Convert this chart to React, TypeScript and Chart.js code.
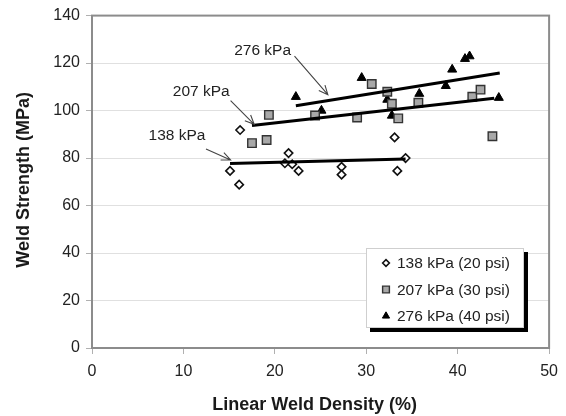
import React, { useEffect, useRef } from "react";
import { Chart, registerables } from "chart.js";

Chart.register(...registerables);

// Measured weld strength (MPa) against linear weld density (%), per clamp pressure
const density138 = [15.1, 16.1, 16.2, 21.1, 21.5, 21.9, 22.6, 27.3, 27.3, 33.1, 33.4, 34.3];
const strength138 = [74.6, 68.8, 91.8, 77.8, 82.1, 77.4, 74.6, 76.3, 73.0, 88.7, 74.6, 80.0];

const density207 = [17.5, 19.1, 19.35, 24.4, 29.0, 30.6, 32.3, 32.8, 33.5, 35.7, 41.6, 42.5, 43.8];
const strength207 = [86.3, 87.6, 98.2, 97.9, 97.1, 111.2, 107.9, 102.9, 96.7, 103.3, 105.8, 108.8, 89.2];

const density276 = [22.3, 25.1, 29.5, 32.3, 32.8, 35.8, 38.7, 39.4, 40.8, 41.3, 44.5];
const strength276 = [105.8, 100.0, 113.8, 104.6, 97.9, 107.1, 110.4, 117.3, 121.8, 122.9, 105.4];

// Linear fits, given by their end points
const fit138X = [15.1, 34.3];
const fit138Y = [77.7, 79.6];
const fit207X = [17.5, 44.0];
const fit207Y = [93.7, 105.2];
const fit276X = [22.3, 44.6];
const fit276Y = [102.0, 115.8];

const seriesLabels = ["138 kPa (20 psi)", "207 kPa (30 psi)", "276 kPa (40 psi)"];
const calloutLabels = ["138 kPa", "207 kPa", "276 kPa"];
// Callout text anchors and arrow start/end, in data units
const calloutTextX = [9.3, 11.95, 18.66];
const calloutTextY = [89.2, 107.9, 125.4];
const arrowFromX = [12.47, 15.16, 22.15];
const arrowFromY = [83.8, 104.2, 122.9];
const arrowToX = [15.16, 17.74, 25.8];
const arrowToY = [79.2, 94.2, 106.7];

const xTitle = "Linear Weld Density (%)";
const yTitle = "Weld Strength (MPa)";

const FONT = "'Liberation Sans', Arial, sans-serif";

const pairs = (xs: number[], ys: number[]) => xs.map((x, i) => ({ x, y: ys[i] }));

const markerStyles = [
  { pointStyle: "rectRot", radius: 4.2, bg: "#ffffff", border: "#111111", bw: 1.6 },
  { pointStyle: "rect", radius: 6, bg: "#a8a8a8", border: "#333333", bw: 1.4 },
  { pointStyle: "triangle", radius: 5.2, bg: "#000000", border: "#000000", bw: 1 },
];

// small legend marker, same shapes as the plotted points
function legendMarker(ctx: CanvasRenderingContext2D, kind: string, x: number, y: number, r: number) {
  ctx.beginPath();
  if (kind === "rectRot") {
    ctx.moveTo(x - r, y);
    ctx.lineTo(x, y - r);
    ctx.lineTo(x + r, y);
    ctx.lineTo(x, y + r);
  } else if (kind === "rect") {
    const h = r * Math.SQRT1_2;
    ctx.rect(x - h, y - h, 2 * h, 2 * h);
  } else {
    ctx.moveTo(x, y - r);
    ctx.lineTo(x + r * 0.866, y + r * 0.5);
    ctx.lineTo(x - r * 0.866, y + r * 0.5);
  }
  ctx.closePath();
  ctx.fill();
  ctx.stroke();
}

const decorations = {
  id: "decorations",
  afterDatasetsDraw(chart: any) {
    const { ctx, chartArea, scales } = chart;
    const xs = scales.x;
    const ys = scales.y;
    ctx.save();

    // plot frame
    ctx.strokeStyle = "#8c8c8c";
    ctx.lineWidth = 2;
    ctx.strokeRect(chartArea.left, chartArea.top, chartArea.right - chartArea.left, chartArea.bottom - chartArea.top);

    // callouts with arrows
    ctx.fillStyle = "#222222";
    ctx.font = `15.5px ${FONT}`;
    ctx.textAlign = "center";
    ctx.textBaseline = "middle";
    calloutLabels.forEach((label, i) => {
      ctx.fillText(label, xs.getPixelForValue(calloutTextX[i]), ys.getPixelForValue(calloutTextY[i]));
      const x0 = xs.getPixelForValue(arrowFromX[i]);
      const y0 = ys.getPixelForValue(arrowFromY[i]);
      const x1 = xs.getPixelForValue(arrowToX[i]);
      const y1 = ys.getPixelForValue(arrowToY[i]);
      const ang = Math.atan2(y1 - y0, x1 - x0);
      const head = 10;
      const spread = 0.42;
      ctx.strokeStyle = "#444444";
      ctx.lineWidth = 1.1;
      ctx.beginPath();
      ctx.moveTo(x0, y0);
      ctx.lineTo(x1, y1);
      ctx.moveTo(x1 - head * Math.cos(ang - spread), y1 - head * Math.sin(ang - spread));
      ctx.lineTo(x1, y1);
      ctx.lineTo(x1 - head * Math.cos(ang + spread), y1 - head * Math.sin(ang + spread));
      ctx.stroke();
    });

    // axis titles
    ctx.fillStyle = "#1a1a1a";
    ctx.font = `bold 18px ${FONT}`;
    ctx.textAlign = "center";
    ctx.textBaseline = "middle";
    ctx.fillText(xTitle, (chartArea.left + chartArea.right) / 2 - 6, 405);
    ctx.save();
    ctx.translate(24, (chartArea.top + chartArea.bottom) / 2 - 2);
    ctx.rotate(-Math.PI / 2);
    ctx.fillText(yTitle, 0, 0);
    ctx.restore();

    // legend box with drop shadow
    const bx = 366, by = 248, bw = 158, bh = 80;
    ctx.fillStyle = "#000000";
    ctx.fillRect(bx + 4, by + 4, bw, bh);
    ctx.fillStyle = "#ffffff";
    ctx.fillRect(bx, by, bw, bh);
    ctx.strokeStyle = "#cfcfcf";
    ctx.lineWidth = 1;
    ctx.strokeRect(bx + 0.5, by + 0.5, bw - 1, bh - 1);
    ctx.font = `15.5px ${FONT}`;
    ctx.textAlign = "left";
    seriesLabels.forEach((label, i) => {
      const cy = by + 15 + i * 26.5;
      const m = markerStyles[i];
      ctx.fillStyle = m.bg;
      ctx.strokeStyle = m.border;
      ctx.lineWidth = m.bw;
      legendMarker(ctx, m.pointStyle, 386, cy, m.radius * 0.8);
      ctx.fillStyle = "#222222";
      ctx.fillText(label, 397, cy + 1);
    });

    ctx.restore();
  },
};

export default function App() {
  const canvasRef = useRef<HTMLCanvasElement | null>(null);

  useEffect(() => {
    const canvas = canvasRef.current;
    if (!canvas) return;

    const scatterSet = (i: number, xs: number[], ys: number[]) => ({
      type: "scatter" as const,
      label: seriesLabels[i],
      data: pairs(xs, ys),
      pointStyle: markerStyles[i].pointStyle,
      pointRadius: markerStyles[i].radius,
      pointBackgroundColor: markerStyles[i].bg,
      pointBorderColor: markerStyles[i].border,
      pointBorderWidth: markerStyles[i].bw,
      showLine: false,
      order: 2,
    });
    const fitSet = (xs: number[], ys: number[]) => ({
      type: "line" as const,
      label: "fit",
      data: pairs(xs, ys),
      borderColor: "#000000",
      borderWidth: 3,
      pointRadius: 0,
      fill: false,
      order: 1,
    });

    const chart = new Chart(canvas, {
      type: "scatter",
      data: {
        datasets: [
          scatterSet(0, density138, strength138),
          scatterSet(1, density207, strength207),
          scatterSet(2, density276, strength276),
          fitSet(fit138X, fit138Y),
          fitSet(fit207X, fit207Y),
          fitSet(fit276X, fit276Y),
        ] as any,
      },
      options: {
        responsive: false,
        animation: false,
        layout: { padding: { top: 12, right: 9, left: 0, bottom: 0 } },
        plugins: { legend: { display: false }, tooltip: { enabled: false } },
        scales: {
          x: {
            type: "linear",
            min: 0,
            max: 50,
            ticks: { stepSize: 10, color: "#222222", font: { family: FONT, size: 16 }, padding: 8, maxRotation: 0 },
            grid: { drawOnChartArea: false, tickLength: 6, color: "#b0b0b0", tickColor: "#b0b0b0" },
            border: { display: true, color: "#8c8c8c", width: 2 },
            afterFit: (s: any) => {
              s.height = 68;
            },
          },
          y: {
            type: "linear",
            min: 0,
            max: 140,
            ticks: { stepSize: 20, color: "#222222", font: { family: FONT, size: 16 }, padding: 6 },
            grid: { color: "#e0e0e0", lineWidth: 1, tickLength: 6, tickColor: "#b0b0b0" },
            border: { display: true, color: "#8c8c8c", width: 2 },
            afterFit: (s: any) => {
              s.width = 92;
            },
          },
        },
      },
      plugins: [decorations],
    });

    return () => chart.destroy();
  }, []);

  return (
    <canvas
      ref={canvasRef}
      width={566}
      height={416}
      style={{ position: "absolute", left: 0, top: 0, width: 566, height: 416, background: "#ffffff" }}
    />
  );
}
